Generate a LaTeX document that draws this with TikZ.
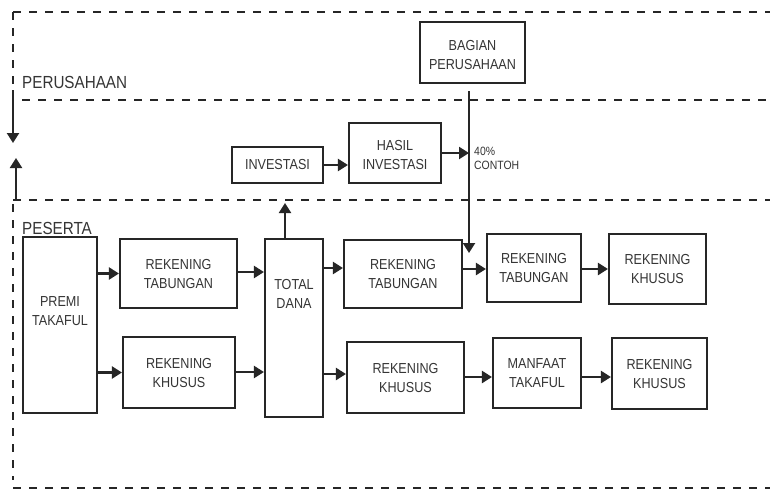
\documentclass[tikz,border=0pt]{standalone}
\usepackage{fontspec}
\setmainfont{Liberation Sans}[FakeStretch=0.87]
\usetikzlibrary{arrows.meta,calc}
\definecolor{ink}{HTML}{262626}
\definecolor{txt}{HTML}{353535}
\tikzset{
  box/.style={draw=ink,line width=2.1pt,inner sep=0pt},
  boxtext/.style={text=txt,font=\fontsize{14.5}{19}\selectfont,align=center,inner sep=0pt},
  arr/.style={draw=ink,line width=2.2pt,-{Triangle[length=10pt,width=12pt]}},
  zone/.style={draw=ink,line width=2pt,dash pattern=on 8pt off 8pt},
  zonelabel/.style={text=txt,font=\fontsize{17.5}{20}\selectfont,inner sep=0pt},
}
\begin{document}
\begin{tikzpicture}[x=1pt,y=-1pt]
\useasboundingbox[fill=white] (0,0) rectangle (770,491);
% zones
\draw[zone] (13,12) -- (770,12);
\draw[zone] (13,12) -- (13,88);
\draw[zone] (22,100) -- (770,100);
\draw[zone] (13,200) -- (770,200);
\draw[zone] (13,204) -- (13,480);
\draw[zone] (13,488) -- (770,488);
\node[zonelabel,anchor=base west] (perusahaan) at (22,88) {PERUSAHAAN};
\node[zonelabel,anchor=base west] (peserta) at (22,234) {PESERTA};
% left arrows
\coordinate (ldS) at (13,90);
\coordinate (ldE) at (13,143);
\coordinate (luS) at (16,200);
\coordinate (luE) at (16,158);
\draw[arr] (ldS) -- (ldE);
\draw[arr] (luS) -- (luE);
% boxes
\node[box,minimum width=105pt,minimum height=61pt] (bagian) at (472.5,52.5) {};
\node[boxtext] (bagianT) at (472.5,55) {BAGIAN\\PERUSAHAAN};
\node[box,minimum width=91pt,minimum height=36pt] (inv) at (277.5,165) {};
\node[boxtext] (invT) at (inv.center) {INVESTASI};
\node[box,minimum width=92pt,minimum height=60pt] (hasil) at (395,153) {};
\node[boxtext] (hasilT) at (395,155) {HASIL\\INVESTASI};
\node[box,minimum width=74pt,minimum height=176pt] (premi) at (60,325) {};
\node[boxtext] (premiT) at (60,311) {PREMI\\TAKAFUL};
\node[box,minimum width=117pt,minimum height=69pt] (rt1) at (178.5,273.5) {};
\node[boxtext] (rt1T) at (rt1.center) {REKENING\\TABUNGAN};
\node[box,minimum width=112pt,minimum height=71pt] (rk1) at (179,372.5) {};
\node[boxtext] (rk1T) at (rk1.center) {REKENING\\KHUSUS};
\node[box,minimum width=58pt,minimum height=178pt] (td) at (294,328) {};
\node[boxtext] (tdT) at (294,294) {TOTAL\\DANA};
\node[box,minimum width=118pt,minimum height=68pt] (rt2) at (403,274) {};
\node[boxtext] (rt2T) at (rt2.center) {REKENING\\TABUNGAN};
\node[box,minimum width=117pt,minimum height=71pt] (rk2) at (405.5,377.5) {};
\node[boxtext] (rk2T) at (rk2.center) {REKENING\\KHUSUS};
\node[box,minimum width=94pt,minimum height=68pt] (rt3) at (534,268) {};
\node[boxtext] (rt3T) at (rt3.center) {REKENING\\TABUNGAN};
\node[box,minimum width=97pt,minimum height=70pt] (rk3) at (657.5,269) {};
\node[boxtext] (rk3T) at (rk3.center) {REKENING\\KHUSUS};
\node[box,minimum width=88pt,minimum height=70pt] (mt) at (537,373) {};
\node[boxtext] (mtT) at (mt.center) {MANFAAT\\TAKAFUL};
\node[box,minimum width=95pt,minimum height=71pt] (rk4) at (659.5,373.5) {};
\node[boxtext] (rk4T) at (rk4.center) {REKENING\\KHUSUS};
\node[text=txt,font=\fontsize{12}{14.5}\selectfont,align=left,anchor=west,inner sep=0pt] (pct) at (474,158.5) {40\%\\CONTOH};
% connectors
\draw[arr] (premi.east |- rt1.west) -- (rt1.west);
\draw[arr] (premi.east |- rk1.west) -- (rk1.west);
\draw[arr] (rt1.east |- 0,272) -- (td.west |- 0,272);
\draw[arr] (rk1.east |- 0,372) -- (td.west |- 0,372);
\draw[arr] (td.east |- 0,268) -- (rt2.west |- 0,268);
\draw[arr] (td.east |- 0,374) -- (rk2.west |- 0,374);
\draw[arr] (rt2.east |- 0,269) -- (rt3.west |- 0,269);
\draw[arr] (rt3.east |- 0,269) -- (rk3.west |- 0,269);
\draw[arr] (rk2.east |- 0,377) -- (mt.west |- 0,377);
\draw[arr] (mt.east |- 0,377) -- (rk4.west |- 0,377);
\draw[arr] (inv.east |- 0,165) -- (hasil.west |- 0,165);
\coordinate (bdrop) at (469,253);
\coordinate (bjoin) at (469,153);
\draw[draw=ink,line width=2.2pt] ([yshift=-7pt]bagian.south -| bdrop) -- (bjoin);
\draw[arr] (bjoin) -- (bdrop);
\draw[arr] (hasil.east |- bjoin) -- (bjoin);
\coordinate (tdup) at (285,203);
\draw[arr] (tdup |- td.north) -- (tdup);
\end{tikzpicture}
\end{document}
